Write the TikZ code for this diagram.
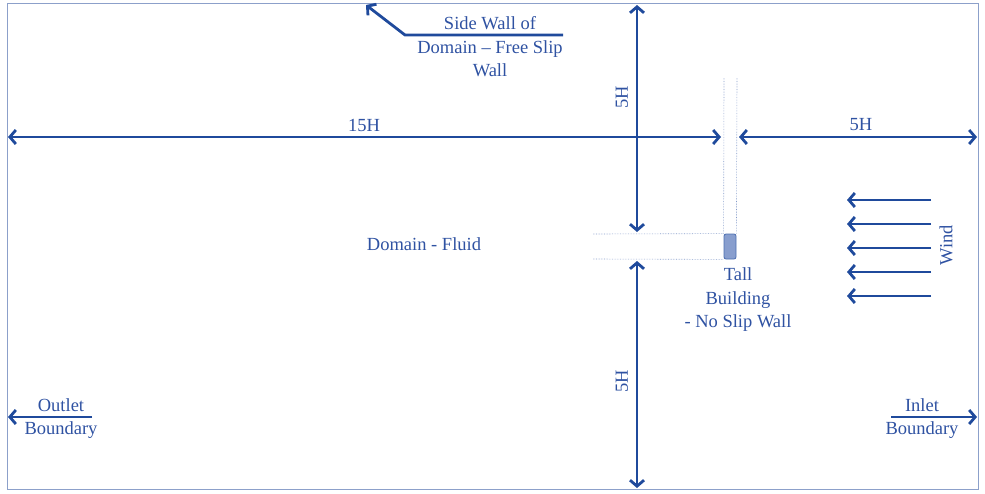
\documentclass[tikz,border=0pt]{standalone}
\usepackage{fontspec}
\setmainfont{Liberation Serif}
\usetikzlibrary{arrows.meta}
\definecolor{lineblue}{RGB}{31,74,156}
\definecolor{textblue}{RGB}{47,82,162}
\definecolor{framegrey}{RGB}{140,160,202}
\definecolor{buildfill}{RGB}{136,158,206}
\tikzstyle{txt} = [text=textblue, font=\fontsize{18.5}{23.5}\selectfont, align=center, inner sep=0pt]
\tikzstyle{arrow} = [line width=2.8pt, draw=lineblue, -{Straight Barb[length=6pt,width=14pt]}]
\tikzstyle{dimarrow} = [line width=2.8pt, draw=lineblue, {Straight Barb[length=6pt,width=14pt]}-{Straight Barb[length=6pt,width=14pt]}]
\tikzstyle{guide} = [densely dotted, draw=lineblue!55, line width=0.6pt]
\tikzstyle{building} = [rectangle, rounded corners=2pt, draw=lineblue!80, fill=buildfill, line width=0.8pt]

\begin{document}
\begin{tikzpicture}[x=1pt, y=-1pt]

    \useasboundingbox (0,0) rectangle (985,493);
    \draw [framegrey, line width=1pt] (7,3) rectangle (978,489);

    % key points
    \coordinate (walltail)   at (563,35);
    \coordinate (wallknee)   at (405,35);
    \coordinate (walltip)    at (366,5);
    \coordinate (toptop)     at (637,5);
    \coordinate (topbottom)  at (637,232);
    \coordinate (bottop)     at (637,261);
    \coordinate (botbottom)  at (637,488);
    \coordinate (leftend)    at (8,137);
    \coordinate (bldleft)    at (721,137);
    \coordinate (bldright)   at (739,137);
    \coordinate (rightend)   at (977,137);
    \coordinate (outtail)    at (92,417);
    \coordinate (outtip)     at (8,417);
    \coordinate (intail)     at (891,417);
    \coordinate (intip)      at (977,417);

    % building and guide lines
    \node (tower) [building, minimum width=12pt, minimum height=25pt] at (730,246.5) {};
    \draw [guide] (724,78) -- (tower.north west);
    \draw [guide] (737,78) -- (tower.north east);
    \draw [guide] (593,234) -- (tower.north west);
    \draw [guide] (593,259) -- (tower.south west);

    % labels
    \node (sidewall)  [txt] at (490,47)  {Side Wall of\\Domain – Free Slip\\Wall};
    \node (fluid)     [txt] at (424,244) {Domain - Fluid};
    \node (tall)      [txt] at (738,300) {Tall\\Building\\- No Slip Wall};
    \node (len15)     [txt] at (364,125) {15H};
    \node (len5r)     [txt] at (861,125) {5H};
    \node (len5t)     [txt, rotate=90] at (622,97)  {5H};
    \node (len5b)     [txt, rotate=90] at (622,381) {5H};
    \node (wind)      [txt, rotate=90] at (946,245) {Wind};
    \node (outlet)    [txt] at (61,418.5)  {Outlet\\Boundary};
    \node (inlet)     [txt] at (922,418.5) {Inlet\\Boundary};

    % arrows
    \draw [arrow]    (walltail) -- (wallknee) -- (walltip);
    \draw [dimarrow] (toptop)   -- (topbottom);
    \draw [dimarrow] (bottop)   -- (botbottom);
    \draw [dimarrow] (leftend)  -- (bldleft);
    \draw [dimarrow] (bldright) -- (rightend);
    \draw [arrow]    (outtail)  -- (outtip);
    \draw [arrow]    (intail)   -- (intip);
    \foreach \y in {200,224,248,272,296}
        \draw [arrow] (931,\y) -- (847,\y);

\end{tikzpicture}
\end{document}
